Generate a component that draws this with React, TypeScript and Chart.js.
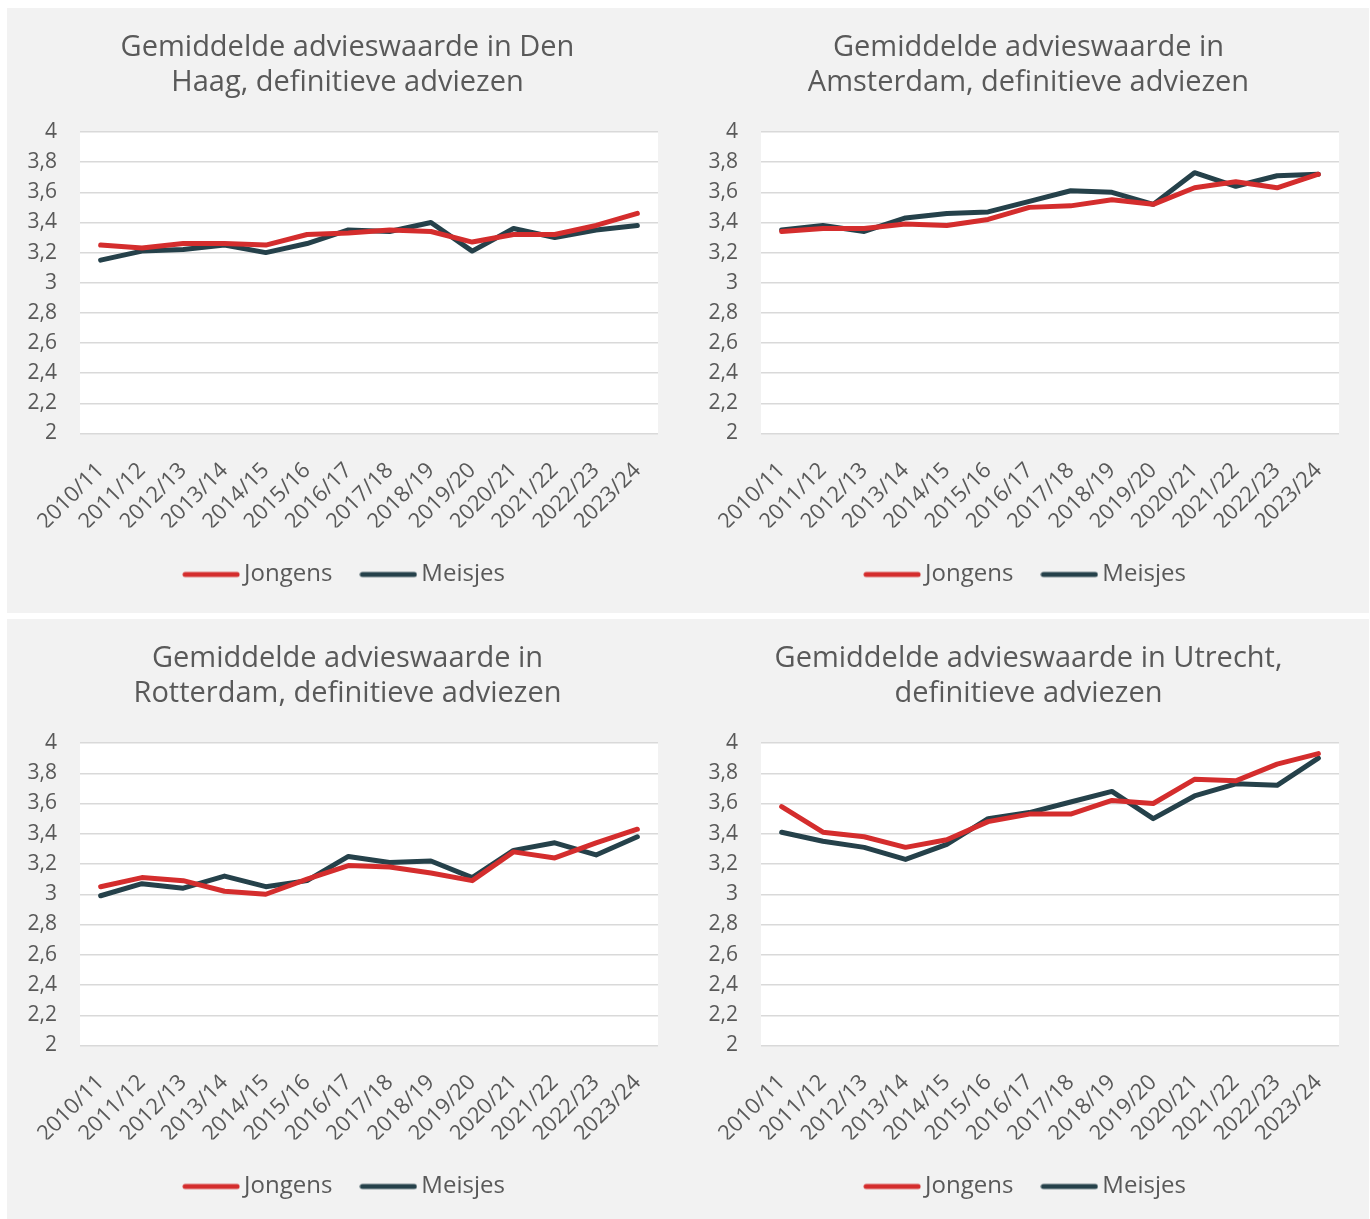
import React, { useEffect, useRef } from "react";
import { Chart, registerables } from "chart.js";

Chart.register(...registerables);

const categories = [
  "2010/11", "2011/12", "2012/13", "2013/14", "2014/15", "2015/16", "2016/17",
  "2017/18", "2018/19", "2019/20", "2020/21", "2021/22", "2022/23", "2023/24",
];

const seriesNames = ["Jongens", "Meisjes"];

const denHaagTitle = ["Gemiddelde advieswaarde in Den", "Haag, definitieve adviezen"];
const denHaagJongens = [3.25, 3.23, 3.26, 3.26, 3.25, 3.32, 3.33, 3.35, 3.34, 3.27, 3.32, 3.32, 3.38, 3.46];
const denHaagMeisjes = [3.15, 3.21, 3.22, 3.25, 3.20, 3.26, 3.35, 3.34, 3.40, 3.21, 3.36, 3.30, 3.35, 3.38];

const amsterdamTitle = ["Gemiddelde advieswaarde in", "Amsterdam, definitieve adviezen"];
const amsterdamJongens = [3.34, 3.36, 3.36, 3.39, 3.38, 3.42, 3.50, 3.51, 3.55, 3.52, 3.63, 3.67, 3.63, 3.72];
const amsterdamMeisjes = [3.35, 3.38, 3.34, 3.43, 3.46, 3.47, 3.54, 3.61, 3.60, 3.52, 3.73, 3.64, 3.71, 3.72];

const rotterdamTitle = ["Gemiddelde advieswaarde in", "Rotterdam, definitieve adviezen"];
const rotterdamJongens = [3.05, 3.11, 3.09, 3.02, 3.00, 3.10, 3.19, 3.18, 3.14, 3.09, 3.28, 3.24, 3.34, 3.43];
const rotterdamMeisjes = [2.99, 3.07, 3.04, 3.12, 3.05, 3.09, 3.25, 3.21, 3.22, 3.11, 3.29, 3.34, 3.26, 3.38];

const utrechtTitle = ["Gemiddelde advieswaarde in Utrecht,", "definitieve adviezen"];
const utrechtJongens = [3.58, 3.41, 3.38, 3.31, 3.36, 3.48, 3.53, 3.53, 3.62, 3.60, 3.76, 3.75, 3.86, 3.93];
const utrechtMeisjes = [3.41, 3.35, 3.31, 3.23, 3.33, 3.50, 3.54, 3.61, 3.68, 3.50, 3.65, 3.73, 3.72, 3.90];

const yMin = 2;
const yMax = 4;
const yStep = 0.2;

const RED = "#d42d2d";
const DARK = "#25414a";
const TEXT = "#595959";
const GRID = "#d9d9d9";
const PANEL_BG = "#f2f2f2";
const FONT = "'Open Sans', 'Noto Sans', sans-serif";

const whiteArea = {
  id: "whiteArea",
  beforeDraw(chart: any) {
    const { ctx, chartArea } = chart;
    ctx.save();
    ctx.fillStyle = "#ffffff";
    ctx.fillRect(chartArea.left, chartArea.top, chartArea.right - chartArea.left, chartArea.bottom - chartArea.top);
    ctx.restore();
  },
};

function legendLine(color: string) {
  const c = document.createElement("canvas");
  c.width = 58;
  c.height = 8;
  const g = c.getContext("2d")!;
  g.strokeStyle = color;
  g.lineWidth = 5;
  g.lineCap = "round";
  g.beginPath();
  g.moveTo(3, 4);
  g.lineTo(55, 4);
  g.stroke();
  return c;
}

type PanelProps = {
  title: string[];
  jongens: number[];
  meisjes: number[];
  width: number;
  height: number;
  legendBottom: number;
};

function Panel({ title, jongens, meisjes, width, height, legendBottom }: PanelProps) {
  const ref = useRef<HTMLCanvasElement | null>(null);
  useEffect(() => {
    if (!ref.current) return;
    const chart = new Chart(ref.current, {
      type: "line",
      data: {
        labels: categories,
        datasets: [
          {
            label: seriesNames[0],
            data: jongens,
            borderColor: RED,
            backgroundColor: RED,
            borderWidth: 5,
            pointRadius: 0,
            pointStyle: legendLine(RED),
            borderCapStyle: "round",
            borderJoinStyle: "round",
            tension: 0,
          },
          {
            label: seriesNames[1],
            data: meisjes,
            borderColor: DARK,
            backgroundColor: DARK,
            borderWidth: 5,
            pointRadius: 0,
            pointStyle: legendLine(DARK),
            borderCapStyle: "round",
            borderJoinStyle: "round",
            tension: 0,
          },
        ],
      },
      options: {
        responsive: false,
        animation: false,
        layout: { padding: { left: 0, right: 0, top: 0, bottom: legendBottom } },
        plugins: {
          title: {
            display: true,
            text: title,
            color: TEXT,
            font: { family: FONT, size: 29, weight: "normal", lineHeight: 35 / 29 },
            padding: { top: 22, bottom: 32 },
          },
          legend: {
            position: "bottom",
            labels: {
              color: TEXT,
              font: { family: FONT, size: 24 },
              usePointStyle: true,
              pointStyleWidth: 42,
              padding: 35,
            },
          },
          tooltip: { enabled: false },
        },
        scales: {
          x: {
            offset: true,
            grid: { display: false, drawTicks: false },
            border: { display: false },
            ticks: {
              color: TEXT,
              font: { family: FONT, size: 22 },
              maxRotation: 45,
              minRotation: 45,
              padding: 24,
              autoSkip: false,
            },
            afterFit(scale: any) {
              scale.height = 94;
            },
          },
          y: {
            min: yMin,
            max: yMax,
            grid: { color: GRID, lineWidth: 1.5, drawTicks: false },
            border: { display: false },
            ticks: {
              stepSize: yStep,
              color: TEXT,
              font: { family: FONT, size: 21 },
              padding: 23,
              callback: (v: any) => {
                const n = Number(Number(v).toFixed(1));
                return String(n).replace(".", ",");
              },
            },
            afterFit(scale: any) {
              scale.width = 73;
            },
          },
          yRight: {
            position: "right",
            min: yMin,
            max: yMax,
            grid: { display: false, drawTicks: false },
            border: { display: false },
            ticks: { display: false },
            afterFit(scale: any) {
              scale.width = 30;
            },
          },
        },
      },
      plugins: [whiteArea],
    });
    return () => chart.destroy();
  }, [title, jongens, meisjes, width, height, legendBottom]);
  return <canvas ref={ref} width={width} height={height} style={{ display: "block" }} />;
}

export default function App() {
  return (
    <div style={{ position: "absolute", left: 0, top: 0, width: 1370, height: 1219, background: "#ffffff" }}>
      <div style={{ position: "absolute", left: 7, top: 8, width: 1362, height: 605, background: PANEL_BG, display: "flex" }}>
        <Panel title={denHaagTitle} jongens={denHaagJongens} meisjes={denHaagMeisjes} width={681} height={605} legendBottom={16.5} />
        <Panel title={amsterdamTitle} jongens={amsterdamJongens} meisjes={amsterdamMeisjes} width={681} height={605} legendBottom={16.5} />
      </div>
      <div style={{ position: "absolute", left: 7, top: 619, width: 1362, height: 600, background: PANEL_BG, display: "flex" }}>
        <Panel title={rotterdamTitle} jongens={rotterdamJongens} meisjes={rotterdamMeisjes} width={681} height={600} legendBottom={10.5} />
        <Panel title={utrechtTitle} jongens={utrechtJongens} meisjes={utrechtMeisjes} width={681} height={600} legendBottom={10.5} />
      </div>
    </div>
  );
}
